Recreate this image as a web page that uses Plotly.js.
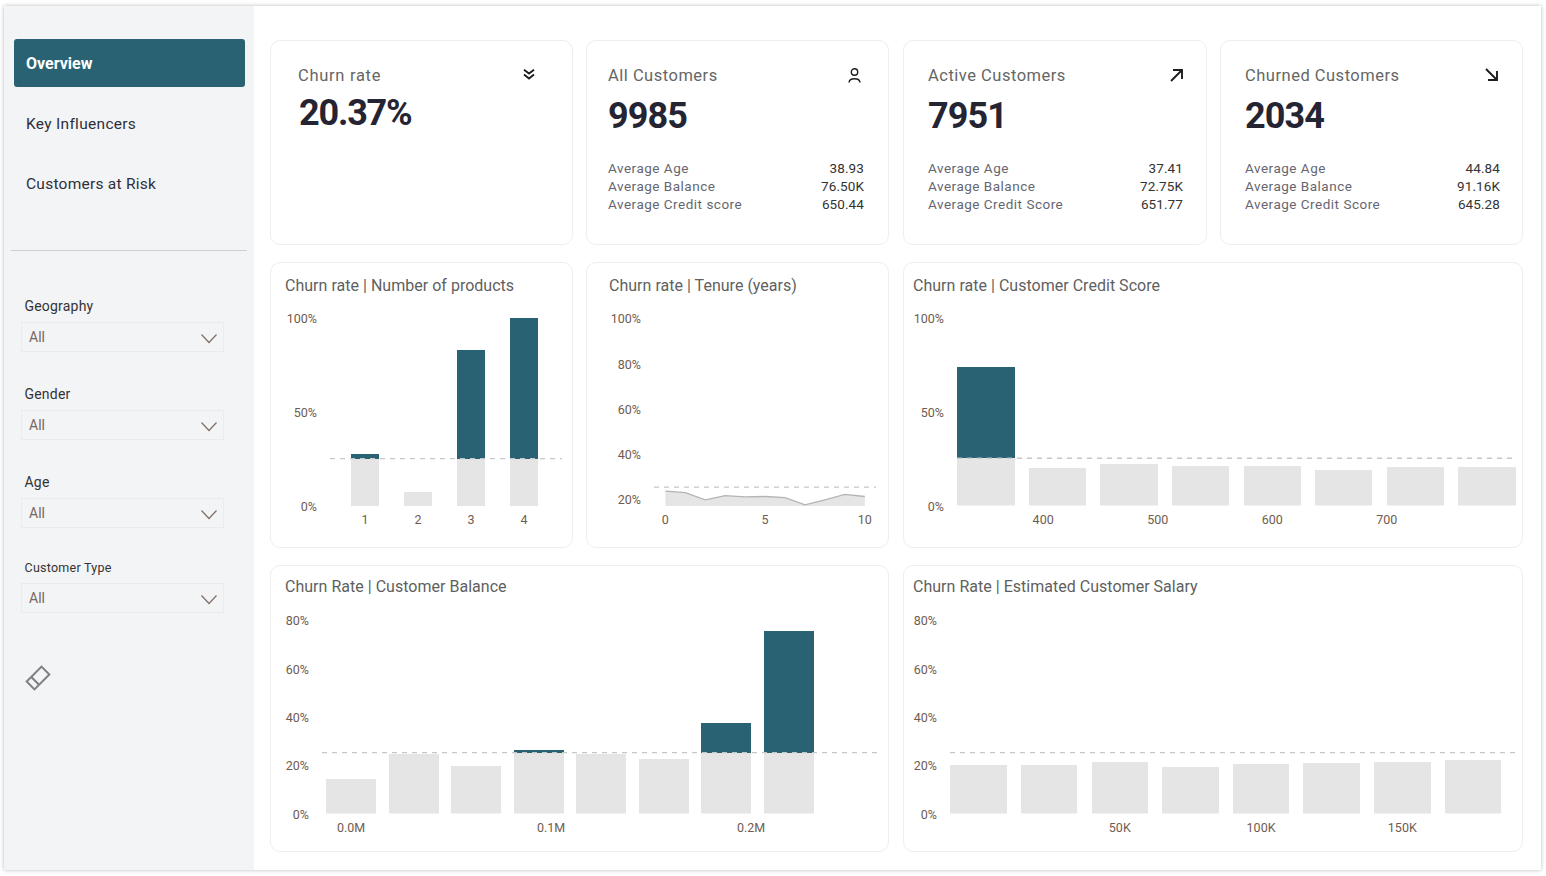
<!DOCTYPE html>
<html><head><meta charset="utf-8">
<script src="https://cdn.plot.ly/plotly-3.0.1.min.js"></script>
<style>
html,body{margin:0;padding:0;width:1546px;height:876px;overflow:hidden;background:#fff;font-family:Roboto,"Open Sans",sans-serif}
#page{position:absolute;left:4px;top:6px;width:1537px;height:864px;background:#fff;box-shadow:0 0 4px rgba(0,0,0,.28)}
#side{position:absolute;left:4px;top:6px;width:250px;height:864px;background:#f3f4f6}
.card{position:absolute;background:#fff;border:1px solid #eeeeee;border-radius:10px;box-sizing:border-box}
.t{position:absolute;white-space:nowrap;transform:translateY(-50%);line-height:1}
.r{transform:translate(-100%,-50%)}
.box{position:absolute;border:1px solid #ebebeb;box-sizing:border-box;background:#f3f4f6}
svg.i{position:absolute;overflow:visible}
#chart{position:absolute;left:0;top:0;width:1546px;height:876px;pointer-events:none}
</style></head><body>
<div id="page"></div><div id="side"></div><div id="ui"></div><div id="chart"></div>
<script>
// ---- data ----
const navItems=["Overview","Key Influencers","Customers at Risk"];
const filterNames=["Geography","Gender","Age","Customer Type"];
const filterValue="All";
const kpiTitles=["Churn rate","All Customers","Active Customers","Churned Customers"];
const kpiValues=["20.37%","9985","7951","2034"];
const rowLabelsAll=["Average Age","Average Balance","Average Credit score"];
const rowLabelsOther=["Average Age","Average Balance","Average Credit Score"];
const allCustomerStats=["38.93","76.50K","650.44"];
const activeCustomerStats=["37.41","72.75K","651.77"];
const churnedCustomerStats=["44.84","91.16K","645.28"];
const chartTitles=["Churn rate | Number of products","Churn rate | Tenure (years)","Churn rate | Customer Credit Score","Churn Rate | Customer Balance","Churn Rate | Estimated Customer Salary"];

const overallChurn=25.2;
const productCats=[1,2,3,4];
const productChurn=[27.7,7.6,83.0,100];
const tenureYears=[0,1,2,3,4,5,6,7,8,9,10];
const tenureChurn=[23.5,22.8,19.6,21.5,20.9,21.1,20.6,17.4,19.6,22.0,21.1];
const creditBins=[350,412.5,475,537.5,600,662.5,725,787.5];
const creditChurn=[73.9,20.2,22.0,21.1,20.9,18.9,20.8,20.4];
const balanceBins=[0,0.03125,0.0625,0.09375,0.125,0.15625,0.1875,0.21875];
const balanceChurn=[14.3,24.5,19.6,26.3,24.4,22.5,37.5,75.4];
const salaryBins=[0,25000,50000,75000,100000,125000,150000,175000];
const salaryChurn=[20.2,20.2,21.2,19.1,20.4,20.7,21.5,22.0];

// ---- palette ----
const TEAL="#296373",GREY="#e5e5e5",TICK="#6f5c50",HEAD="#5f5f5f",DARK="#252433",SUB="#666670";
const FONT="Roboto, sans-serif";

// ---- static page furniture ----
const ui=document.getElementById("ui");
function el(cls,css,txt){const d=document.createElement("div");d.className=cls;d.style.cssText=css;if(txt!==undefined)d.textContent=txt;ui.appendChild(d);return d;}
function text(x,y,s,size,color,extra){return el("t",`left:${x}px;top:${y}px;font-size:${size}px;color:${color};${extra||""}`,s);}
function textR(x,y,s,size,color,extra){return el("t r",`left:${x}px;top:${y}px;font-size:${size}px;color:${color};${extra||""}`,s);}
function svg(x,y,w,h,inner,vb){const n=document.createElement("div");n.innerHTML=`<svg class="i" style="left:${x}px;top:${y}px" width="${w}" height="${h}" viewBox="${vb||`0 0 ${w} ${h}`}">${inner}</svg>`;ui.appendChild(n.firstChild);}

// nav
el("","position:absolute;left:14px;top:39px;width:231px;height:48px;background:"+TEAL+";border-radius:3px");
text(26,64,navItems[0],16,"#fff","font-weight:700");
text(26,125,navItems[1],15.5,"#2f2f3a","letter-spacing:.3px");
text(26,185,navItems[2],15.5,"#2f2f3a","letter-spacing:.25px");
el("","position:absolute;left:11px;top:250px;width:236px;height:1px;background:#cfcfcf");

// slicers
const filterLabelY=[306,394,482,567.5],filterBoxY=[322,410,498,583];
filterNames.forEach((f,i)=>{
  text(24.5,filterLabelY[i],f,i==3?12.5:14,"#333",i==3?"letter-spacing:.25px":"letter-spacing:.2px");
  el("box",`left:21px;top:${filterBoxY[i]}px;width:203px;height:30px`);
  text(29,filterBoxY[i]+15,filterValue,14,"#77675c");
  svg(201,filterBoxY[i]+12,16,10,'<path d="M.5 .5 L8 8.5 L15.5 .5" fill="none" stroke="#7f7068" stroke-width="1.2"/>');
});
// eraser icon
svg(26,666,24,24,'<g transform="rotate(-45 12 12)" fill="none" stroke="#808080" stroke-width="2"><rect x="1.5" y="6.5" width="21" height="11"/><line x1="8" y1="6.5" x2="8" y2="17.5"/></g>');

// KPI cards
[[270,303],[586,303],[903,304],[1220,303]].forEach(c=>el("card",`left:${c[0]}px;top:40px;width:${c[1]}px;height:205px`));
text(298,75.5,kpiTitles[0],16.5,"#666","letter-spacing:.7px");
text(299,113,kpiValues[0],36,DARK,"font-weight:700;letter-spacing:-1.2px");
const kx=[null,608,928,1245],vx=[null,864,1183,1500];
const stats=[null,allCustomerStats,activeCustomerStats,churnedCustomerStats];
for(let k=1;k<4;k++){
  text(kx[k],75.5,kpiTitles[k],16.5,"#666","letter-spacing:.5px");
  text(kx[k],116,kpiValues[k],36,DARK,"font-weight:700;letter-spacing:-.9px");
  (k==1?rowLabelsAll:rowLabelsOther).forEach((l,j)=>{
    text(kx[k],168.5+j*18,l,13.5,SUB,"letter-spacing:.5px");
    textR(vx[k],168.5+j*18,stats[k][j],13.5,"#333","letter-spacing:.1px");
  });
}
// KPI icons
svg(523,69,12,11,'<path d="M1 .8 L6 4.6 L11 .8 M1 5.6 L6 9.6 L11 5.6" fill="none" stroke="#1d1d1d" stroke-width="1.9"/>');
svg(848,68,13,15,'<circle cx="6.5" cy="4" r="3.2" fill="none" stroke="#1d1d1d" stroke-width="1.4"/><path d="M1 14.5 C1.5 9.5 11.5 9.5 12 14.5" fill="none" stroke="#1d1d1d" stroke-width="1.4"/>');
svg(1170,69,13,13,'<path d="M3 1 H12 V10 M12 1 L1 12" fill="none" stroke="#1d1d1d" stroke-width="1.9"/>');
svg(1485,68,13,13,'<path d="M12 3 V12 H3 M12 12 L1 1" fill="none" stroke="#1d1d1d" stroke-width="1.9"/>');

// chart cards and headings
[[270,262,303,286],[586,262,303,286],[903,262,620,286],[270,565,619,287],[903,565,620,287]]
 .forEach(c=>el("card",`left:${c[0]}px;top:${c[1]}px;width:${c[2]}px;height:${c[3]}px`));
[[285,286],[609,286],[913,286],[285,587],[913,587]].forEach((p,i)=>text(p[0],p[1],chartTitles[i],16,HEAD,"letter-spacing:.02px"));

// ---- Plotly ----
const W=1546,H=876;
const dx=(a,b)=>[a/W,b/W], dy=(t,b)=>[1-b/H,1-t/H];
const data=[];
function bars(ax,x,v,w){
  const below=v.map(d=>Math.min(d,overallChurn));
  const above=v.map(d=>Math.max(d-overallChurn,0));
  const xa="x"+ax,ya="y"+ax;
  data.push({type:"bar",x:x,y:below,width:w,xaxis:xa,yaxis:ya,marker:{color:GREY,line:{width:0}},hoverinfo:"skip"});
  data.push({type:"bar",x:x,y:above,width:w,xaxis:xa,yaxis:ya,marker:{color:TEAL,line:{width:0}},hoverinfo:"skip"});
}
bars("",productCats,productChurn,0.51);
data.push({type:"scatter",mode:"lines",x:tenureYears,y:tenureChurn,xaxis:"x2",yaxis:"y2",fill:"tozeroy",fillcolor:GREY,line:{color:"#b4b4b4",width:1.3},hoverinfo:"skip"});
bars("3",creditBins,creditChurn,50);
bars("4",balanceBins,balanceChurn,0.025);
bars("5",salaryBins,salaryChurn,20000);

const tf={family:FONT,size:12.5,color:TICK};
function xa(px,range,vals,txt,anchor,standoff,shift){return {domain:dx(px[0],px[1]),range:range,tickmode:"array",tickvals:vals,ticktext:txt,showgrid:false,zeroline:false,showline:false,ticks:"",tickfont:tf,anchor:anchor,fixedrange:true,ticklabelstandoff:standoff,ticklabelshift:shift};}
function ya(py,range,vals,anchor){return {domain:dy(py[0],py[1]),range:range,tickmode:"array",tickvals:vals,ticktext:vals.map(v=>v+"%"),showgrid:false,zeroline:false,showline:false,ticks:"",tickfont:tf,anchor:anchor,fixedrange:true,ticklabelstandoff:12,ticklabelshift:1};}

const refLine=(x,y)=>({type:"line",xref:x+" domain",yref:y,x0:0,x1:1,y0:overallChurn,y1:overallChurn,layer:"above",line:{color:"#c4c8c8",width:1.3,dash:"5px,5px"}});
const layout={width:W,height:H,margin:{l:0,r:0,t:0,b:0},showlegend:false,barmode:"stack",paper_bgcolor:"rgba(0,0,0,0)",plot_bgcolor:"rgba(0,0,0,0)",font:{family:FONT},
 xaxis:xa([330,562],[0.34,4.717],productCats,productCats.map(String),"y",4,0),
 yaxis:ya([318,506],[0,100],[0,50,100],"x"),
 xaxis2:xa([654,876],[-0.57,10.56],[0,5,10],["0","5","10"],"y2",4,0),
 yaxis2:ya([318,506],[16.9,100],[20,40,60,80,100],"x2"),
 xaxis3:xa([957,1516],[324.8,812.8],[400,500,600,700],["400","500","600","700"],"y3",5,0),
 yaxis3:ya([318,505.5],[0,100],[0,50,100],"x3"),
 xaxis4:xa([322,879],[-0.0145,0.264],[0,0.1,0.2],["0.0M","0.1M","0.2M"],"y4",5,0),
 yaxis4:ya([620,813.5],[0,80],[0,20,40,60,80],"x4"),
 xaxis5:xa([950,1517],[-10100,190600],[50000,100000,150000],["50K","100K","150K"],"y5",5,0),
 yaxis5:ya([620,813.5],[0,80],[0,20,40,60,80],"x5"),
 shapes:[refLine("x","y"),refLine("x2","y2"),refLine("x3","y3"),refLine("x4","y4"),refLine("x5","y5")]
};
Plotly.newPlot("chart",data,layout,{displayModeBar:false,staticPlot:true});
</script></body></html>
